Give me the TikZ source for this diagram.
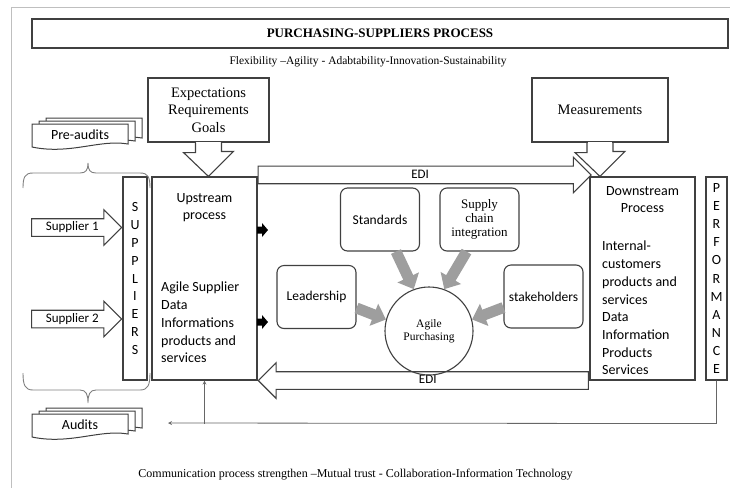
\documentclass[tikz,border=0pt]{standalone}
\usepackage{fontspec}
\setmainfont{Liberation Serif}
\newfontfamily\carlito{Carlito}
\usetikzlibrary{arrows,arrows.meta,shapes,positioning,decorations.pathreplacing}

\begin{document}
\begin{tikzpicture}[
        x=1pt, y=-1pt,
        line/.style={draw=black!75, line width=1.1pt},
        frame/.style={draw=black!25, line width=0.8pt},
        box/.style={line, rectangle, inner sep=0pt},
        softbox/.style={box, rounded corners=7pt, minimum width=79pt, minimum height=63pt},
        sanstext/.style={inner sep=0pt, font=\carlito\fontsize{14}{17.7}\selectfont},
        smallsans/.style={font=\carlito\fontsize{13.5}{16}\selectfont},
        serifbox/.style={font=\fontsize{14.5}{17.5}\selectfont},
        keyword/.style={inner sep=0pt, font=\fontsize{11.5}{13}\selectfont},
        letters/.style={align=center, font=\carlito\fontsize{14}{#1}\selectfont},
        blockarrow/.style={line, fill=white, single arrow, single arrow head extend=9pt,
            single arrow tip angle=90, inner xsep=2pt, inner ysep=2.5pt,
            text height=9pt, text depth=2.5pt, font=\carlito\fontsize{13}{15}\selectfont},
        circ/.style={line, circle, minimum size=88pt, inner sep=0pt, align=center,
            font=\fontsize{11.5}{13}\selectfont},
        influence/.style={draw=black!38, line width=11pt, -{Triangle[length=13pt,width=23pt]}},
        feedback/.style={->, >=stealth, draw=black!60, line width=0.8pt},
        doc/.style={draw=black!75, line width=1pt, fill=white},
        curly/.style={draw=black!50, line width=0.9pt}
    ]
    \useasboundingbox (0,0) rectangle (730,488);

    % Page frame
    \draw[frame] (730,7) -- (11,7) -- (11,488);

    % Title and keywords
    \node[box, minimum width=696pt, minimum height=29pt,
          font=\bfseries\fontsize{13}{15}\selectfont] (title) at (380,33.5) {PURCHASING-SUPPLIERS PROCESS};
    \node[keyword] (values) at (368,62) {Flexibility –Agility - Adabtability-Innovation-Sustainability};

    % Input boxes on top
    \node[box, serifbox, align=center, minimum width=121pt, minimum height=64pt] (expect) at (208.5,110)
        {Expectations\\Requirements\\Goals};
    \node[box, serifbox, minimum width=136pt, minimum height=64pt] (measure) at (600,110) {Measurements};

    % Main columns
    \node[box, letters=17.9, minimum width=24pt, minimum height=203pt] (suppliers) at (135,278.5)
        {S\\U\\P\\P\\L\\I\\E\\R\\S};
    \node[box, minimum width=105pt, minimum height=203pt] (upstream) at (204.5,278.5) {};
    \node[box, minimum width=105pt, minimum height=203pt] (downstream) at (642.5,278.5) {};
    \node[box, letters=18.1, minimum width=21pt, minimum height=203pt] (performance) at (716.5,278.5)
        {P\\E\\R\\F\\O\\R\\M\\A\\N\\C\\E};

    % Column texts
    \node[sanstext, anchor=north, align=center] (uptitle) at (204.5,193) {Upstream\\process};
    \node[sanstext, anchor=north west, align=left] (uplist) at (161,282)
        {Agile Supplier\\Data\\Informations\\products and\\services};
    \node[sanstext, anchor=north, align=center] (downtitle) at (642.5,186) {Downstream\\Process};
    \node[sanstext, anchor=north west, align=left] (downlist) at (602,241)
        {Internal-\\customers\\products and\\services\\Data\\Information\\Products\\Services};

    % Suppliers
    \node[blockarrow, minimum height=90pt, anchor=tip] (sup1) at ([yshift=51pt]suppliers.west) {Supplier 1};
    \node[blockarrow, minimum height=90pt, anchor=tip] (sup2) at ([yshift=-40.5pt]suppliers.west) {Supplier 2};

    % Small outputs of upstream
    \foreach \yy in {230,322}
        \fill[black] (257,\yy) ++(0,-3.5) -- ++(5,0) -- ++(0,-3.5) -- ++(6,7) -- ++(-6,7)
            -- ++(0,-3.5) -- ++(-5,0) -- cycle;

    % EDI exchanges
    \node[blockarrow, minimum height=333pt, anchor=tail] (editop) at ([yshift=1.5pt]upstream.north east) {EDI};
    \node[blockarrow, minimum height=330pt, anchor=tip, shape border rotate=180] (edibottom)
        at (upstream.south east) {EDI};

    % Hollow arrows from top boxes
    \fill[white] ([xshift=-12.4pt,yshift=1pt]expect.south) rectangle ([xshift=12.4pt,yshift=-1pt]expect.south);
    \draw[line] ([xshift=-13pt]expect.south) -- ++(0,10) -- ++(-12,0) -- (expect.south |- upstream.north)
        -- ++(25,-25) -- ++(-12,0) -- ++(0,-10);
    \fill[white] ([xshift=-12.4pt,yshift=1pt]measure.south) rectangle ([xshift=12.4pt,yshift=-1pt]measure.south);
    \draw[line] ([xshift=-13pt]measure.south) -- ++(0,10) -- ++(-12,0) -- (measure.south |- downstream.north)
        -- ++(25,-25) -- ++(-12,0) -- ++(0,-10);

    % Agile purchasing and its drivers
    \node[circ] (agile) at (429,331) {Agile\\Purchasing};
    \node[softbox, smallsans] (standards) at (380,219.5) {Standards};
    \node[softbox, align=center, font=\fontsize{13}{14}\selectfont] (supply) at (479.5,219.5)
        {Supply\\chain\\integration};
    \node[softbox, smallsans] (leadership) at (316.5,297) {Leadership};
    \node[softbox, smallsans] (stakeholders) at (543.5,296.5) {stakeholders};

    \draw[influence] ([xshift=16pt]standards.south) -- (agile.110);
    \draw[influence] ([xshift=-13pt]supply.south) -- (agile.70);
    \draw[influence] ([yshift=-11pt]leadership.east) -- (agile.165);
    \draw[influence] ([yshift=-11pt]stakeholders.west) -- (agile.15);

    % Audits
    \foreach \dx/\dy in {14/-6,7/-3,0/0}
        \filldraw[doc, shift={(\dx,\dy)}] (32,124) -- (128,124) -- (128,144)
            .. controls (100,139) and (70,155) .. (32,147) -- cycle;
    \node[sanstext] (preaudits) at (80,134.5) {Pre-audits};
    \foreach \dx/\dy in {14/-6,7/-3,0/0}
        \filldraw[doc, shift={(\dx,\dy+290)}] (32,124) -- (128,124) -- (128,144)
            .. controls (100,139) and (70,155) .. (32,147) -- cycle;
    \node[sanstext] (audits) at (80,425) {Audits};

    % Braces round the suppliers
    \draw[curly] (23,188) .. controls (23,177) and (25,173) .. (33,173) -- (80,173)
        .. controls (86,173) and (88,170) .. (88,163) .. controls (88,170) and (90,173) .. (96,173)
        -- (140,173) .. controls (148,173) and (150,177) .. (150,188);
    \draw[curly] (23,373) .. controls (23,385) and (25,390) .. (33,390) -- (80,390)
        .. controls (86,390) and (88,394) .. (88,403) .. controls (88,394) and (90,390) .. (96,390)
        -- (140,390) .. controls (148,390) and (150,385) .. (150,373);

    % Performance feedback
    \path (performance.south) ++(0,43) coordinate (fbcorner);
    \coordinate (fbend) at (168,423);
    \draw[feedback] (performance.south) -- (fbcorner) -- (fbend);
    \draw[feedback] (upstream.south |- fbcorner) -- (upstream.south);

    % Bottom line
    \node[keyword, font=\fontsize{12}{14}\selectfont] (enablers) at (355.5,475)
        {Communication process strengthen –Mutual trust - Collaboration-Information Technology};

\end{tikzpicture}
\end{document}
